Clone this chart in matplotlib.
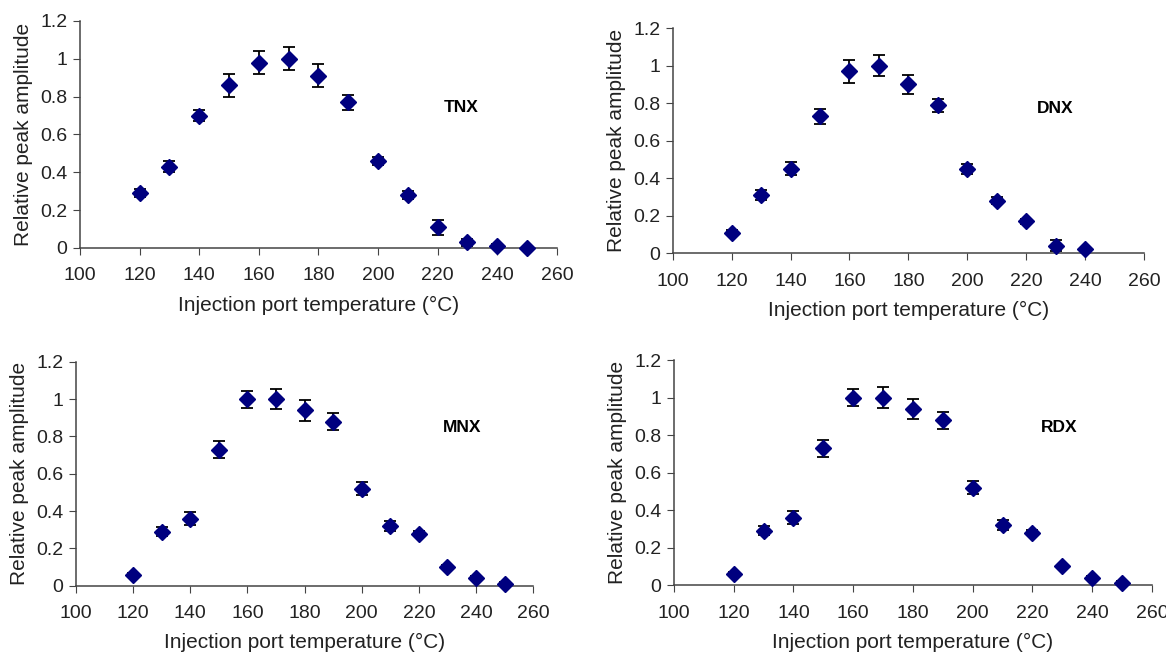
import matplotlib.pyplot as plt

temp = [120, 130, 140, 150, 160, 170, 180, 190, 200, 210, 220, 230, 240, 250]

# relative peak amplitude and error bars for each compound
tnx = [0.29, 0.43, 0.70, 0.86, 0.98, 1.00, 0.91, 0.77, 0.46, 0.28, 0.11, 0.03, 0.01, 0.0]
tnx_err = [0.02, 0.03, 0.03, 0.06, 0.06, 0.06, 0.06, 0.04, 0.02, 0.02, 0.04, 0.02, 0.01, 0.005]

dnx = [0.11, 0.31, 0.45, 0.73, 0.97, 1.00, 0.90, 0.79, 0.45, 0.28, 0.17, 0.04, 0.02]
dnx_err = [0.015, 0.025, 0.035, 0.04, 0.06, 0.055, 0.05, 0.035, 0.025, 0.02, 0.015, 0.03, 0.01]

mnx = [0.06, 0.29, 0.36, 0.73, 1.00, 1.00, 0.94, 0.88, 0.52, 0.32, 0.28, 0.10, 0.04, 0.01]
mnx_err = [0.01, 0.025, 0.035, 0.045, 0.045, 0.055, 0.055, 0.045, 0.035, 0.025, 0.015, 0.01, 0.01, 0.01]

rdx = [0.06, 0.29, 0.36, 0.73, 1.00, 1.00, 0.94, 0.88, 0.52, 0.32, 0.28, 0.10, 0.04, 0.01]
rdx_err = [0.01, 0.025, 0.035, 0.045, 0.045, 0.055, 0.055, 0.045, 0.035, 0.025, 0.015, 0.01, 0.01, 0.01]

plt.rcParams['font.family'] = ['Liberation Sans', 'DejaVu Sans']

fig = plt.figure(figsize=(11.66, 6.56), dpi=100)

panels = [
    ('TNX', tnx, tnx_err, [0.0686, 0.622, 0.409, 0.346], (228, 0.74)),
    ('DNX', dnx, dnx_err, [0.577, 0.614, 0.404, 0.343], (230, 0.77)),
    ('MNX', mnx, mnx_err, [0.0652, 0.107, 0.392, 0.3415], (235, 0.85)),
    ('RDX', rdx, rdx_err, [0.578, 0.108, 0.410, 0.343], (229, 0.84)),
]

for name, vals, errs, rect, pos in panels:
    ax = fig.add_axes(rect)
    ax.errorbar(temp[:len(vals)], vals, yerr=errs, fmt='D', color='#00007f',
                markersize=8, ecolor='black', elinewidth=1.3, capsize=4.5,
                capthick=1.3, zorder=3, clip_on=False)
    ax.set_xlim(100, 260)
    ax.set_ylim(0, 1.2)
    ax.set_xticks(range(100, 261, 20))
    ax.set_yticks([0, 0.2, 0.4, 0.6, 0.8, 1.0, 1.2])
    ax.set_yticklabels(['0', '0.2', '0.4', '0.6', '0.8', '1', '1.2'])
    for s in ['top', 'right']:
        ax.spines[s].set_visible(False)
    for s in ['left', 'bottom']:
        ax.spines[s].set_color('#444444')
        ax.spines[s].set_linewidth(1.1)
    ax.tick_params(labelsize=14, color='#444444', length=5, direction='out',
                   labelcolor='#222222')
    ax.tick_params(axis='x', pad=9)
    ax.tick_params(axis='y', pad=4)
    ax.set_xlabel('Injection port temperature (°C)', fontsize=15, labelpad=8, color='#222222')
    ax.set_ylabel('Relative peak amplitude', fontsize=15, labelpad=5, color='#222222')
    ax.text(pos[0], pos[1], name, fontsize=12.5, fontweight='bold', ha='center', va='center')

fig.savefig('out.png', dpi=100)
